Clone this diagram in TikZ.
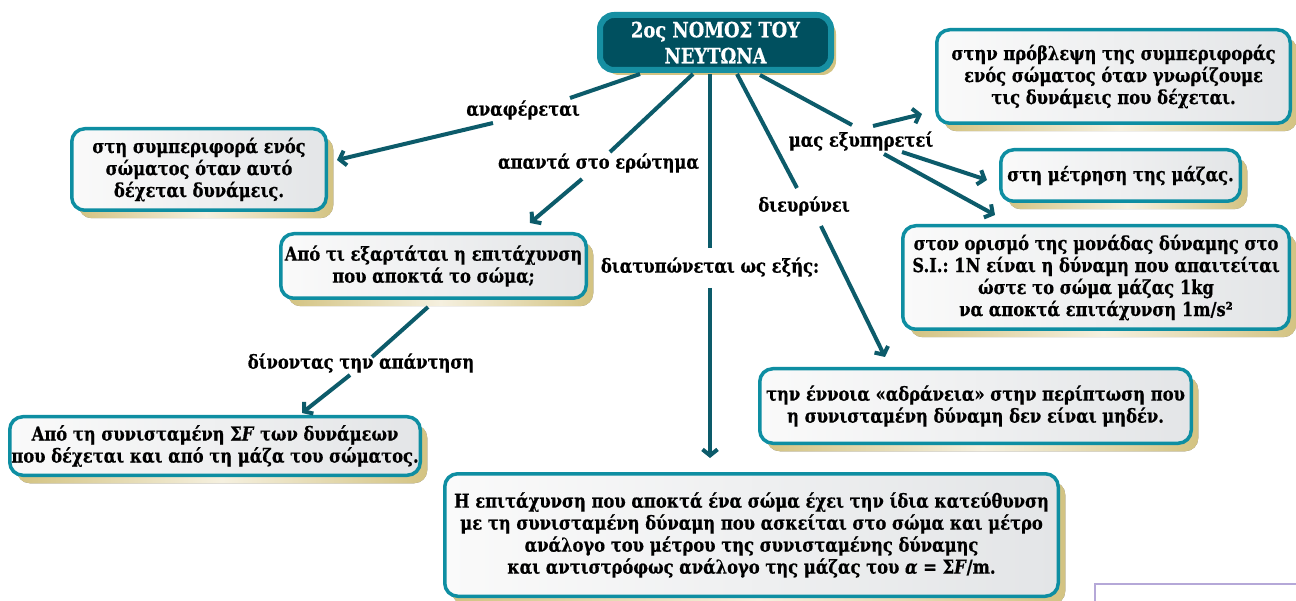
\documentclass[tikz,border=0pt]{standalone}
\usepackage{fontspec}
\setmainfont{DejaVu Serif}[FakeStretch=0.85, BoldFeatures={FakeBold=0.6}, BoldItalicFeatures={FakeBold=0.6}]
\usetikzlibrary{arrows.meta,shadows,calc}
\frenchspacing

\definecolor{boxline}{HTML}{0E8EA2}
\definecolor{arrowcol}{HTML}{0C5B6A}
\definecolor{titlefill}{HTML}{00505F}
\definecolor{titleline}{HTML}{168FA2}
\definecolor{shadtan}{HTML}{D3C382}
\definecolor{shadcream}{HTML}{F5F0DF}
\definecolor{boxleft}{HTML}{FAFAFA}
\definecolor{boxright}{HTML}{E3E5E7}
\definecolor{lav}{HTML}{B5A8D8}

\newcommand{\mybodyfont}{\fontsize{19.2}{22}\selectfont\bfseries}
\newcommand{\mytitlefont}{\fontsize{21}{26}\selectfont\bfseries}

\tikzset{
  conceptbox/.style={draw=boxline, line width=3.5pt, rounded corners=13pt,
    left color=boxleft, right color=boxright, align=center, inner sep=1pt,
    font=\mybodyfont, text=black,
    drop shadow={shadow xshift=7pt, shadow yshift=-8pt, opacity=1,
      left color=shadtan, right color=shadtan, middle color=shadcream}},
  titlebox/.style={draw=titleline, fill=titlefill, line width=6pt, rounded corners=14pt,
    align=center, inner sep=1pt, font=\mytitlefont, text=white,
    drop shadow={shadow xshift=5pt, shadow yshift=-5pt, opacity=1, fill=shadtan}},
  lab/.style={font=\mybodyfont, inner sep=0pt, text=black},
  conn/.style={draw=arrowcol, line width=4pt},
  arr/.style={conn, -{Straight Barb[length=6pt,width=15pt]}}
}

\begin{document}
\begin{tikzpicture}[x=1pt,y=-1pt]
\useasboundingbox (0,0) rectangle (1296,601);
\clip (0,0) rectangle (1296,601);
\fill[white] (0,0) rectangle (1296,601);

% boxes
\node[titlebox, minimum width=231pt, minimum height=55pt] (title) at (715.5,42.5) {2ος ΝΟΜΟΣ ΤΟΥ\\ΝΕΥΤΩΝΑ};
\node[conceptbox, minimum width=254.5pt, minimum height=81.5pt] (left) at (199,169.5) {στη συμπεριφορά ενός\\σώματος όταν αυτό\\δέχεται δυνάμεις.};
\node[conceptbox, minimum width=305.5pt, minimum height=64.5pt] (q) at (433.5,266) {Από τι εξαρτάται η επιτάχυνση\\που αποκτά το σώμα;};
\node[conceptbox, minimum width=410.5pt, minimum height=58.5pt] (bl) at (215,446) {Από τη συνισταμένη Σ\textit{F} των δυνάμεων\\που δέχεται και από τη μάζα του σώματος.};
\node[conceptbox, minimum width=613.5pt, minimum height=122.5pt] (bot) at (751.5,535) {Η επιτάχυνση που αποκτά ένα σώμα έχει την ίδια κατεύθυνση\\με τη συνισταμένη δύναμη που ασκείται στο σώμα και μέτρο\\ανάλογο του μέτρου της συνισταμένης δύναμης\\και αντιστρόφως ανάλογο της μάζας του \textit{α} = Σ\textit{F}/m.};
\node[conceptbox, minimum width=431.5pt, minimum height=74.5pt] (adr) at (975.5,406) {την έννοια «αδράνεια» στην περίπτωση που\\η συνισταμένη δύναμη δεν είναι μηδέν.};
\node[conceptbox, minimum width=386.5pt, minimum height=103.5pt] (def) at (1096,277.5) {στον ορισμό της μονάδας δύναμης στο\\S.I.: 1N είναι η δύναμη που απαιτείται\\ώστε το σώμα μάζας 1kg\\να αποκτά επιτάχυνση 1m/s²};
\node[conceptbox, minimum width=239.5pt, minimum height=51.5pt] (mass) at (1120.5,175.5) {στη μέτρηση της μάζας.};
\node[conceptbox, minimum width=353.5pt, minimum height=93.5pt] (pred) at (1113.5,76.5) {στην πρόβλεψη της συμπεριφοράς\\ενός σώματος όταν γνωρίζουμε\\τις δυνάμεις που δέχεται.};

% labels
\node[lab] (lab1) at (523,110) {αναφέρεται};
\node[lab] (lab2) at (598.5,163) {απαντά στο ερώτημα};
\node[lab] (lab3) at (710,267) {διατυπώνεται ως εξής:};
\node[lab] (lab4) at (804,206) {διευρύνει};
\node[lab] (lab5) at (861,141) {μας εξυπηρετεί};
\node[lab] (lab6) at (361,363) {δίνοντας την απάντηση};

% connectors from title to labels
\draw[conn] ($(title.south)+(-75.5,1)$) -- ($(lab1)+(47,-12)$);
\draw[conn] ($(title.south)+(-22.5,1)$) -- ($(lab2)+(11.5,-11)$);
\draw[conn] ($(title.south)+(-5.5,1)$) -- ($(lab3)+(0,-19)$);
\draw[conn] ($(title.south)+(21.5,1)$) -- ($(lab4)+(-7,-18)$);
\draw[conn] ($(title.south)+(44.5,2)$) -- ($(lab5)+(-9,-16)$);

% arrows from labels to boxes
\draw[arr] ($(lab1)+(-30,13)$) -- ($(left.east)+(9,-9.5)$);
\draw[arr] ($(lab2)+(-16.5,16)$) -- ($(q.north east)+(-58,-9)$);
\draw[arr] ($(lab3)+(0,21)$) -- ($(lab3 |- bot.north)+(0,-14)$);
\draw[arr] ($(lab4)+(17,20)$) -- ($(adr.north west)+(127,-10)$);
\draw[arr] ($(lab5)+(12,-15)$) -- ($(pred.south west)+(-13,-11)$);
\draw[arr] ($(lab5)+(41,11)$) -- ($(mass.west)+(-12,4.5)$);
\draw[arr] ($(lab5)+(23,13)$) -- ($(def.north west)+(94,-9)$);

% from question box to answer
\draw[conn] ($(q.south)+(-5.5,7)$) -- ($(lab6)+(11,-6)$);
\draw[arr] ($(lab6)+(-11,12)$) -- ($(bl.north)+(87,-2)$);

% partial frame at bottom right
\draw[lav, line width=2pt, fill=white] (1095,584) rectangle (1310,620);
\end{tikzpicture}
\end{document}
